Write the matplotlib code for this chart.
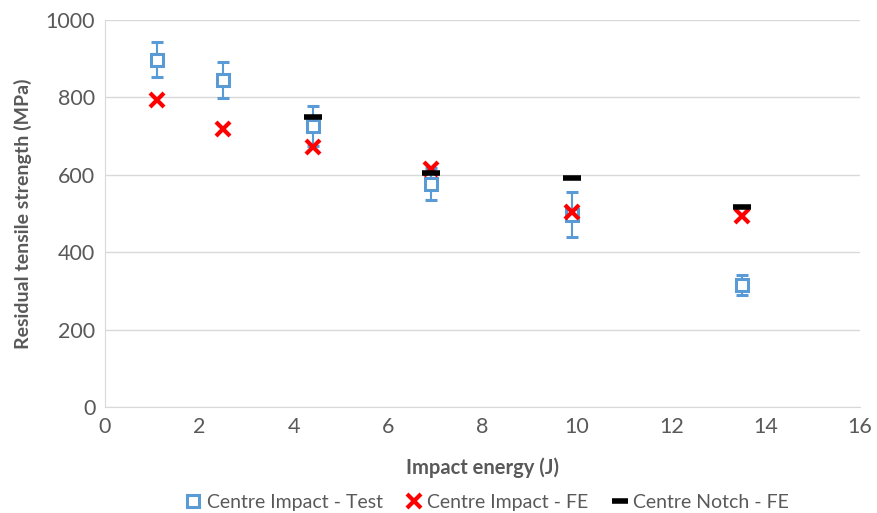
import matplotlib.pyplot as plt
from matplotlib.lines import Line2D

# ---- data ----
energy = [1.1, 2.5, 4.4, 6.9, 9.9, 13.5]
test_strength = [897, 845, 726, 576, 497, 316]
test_err = [45, 47, 52, 42, 58, 26]
fe_impact = [793, 718, 672, 615, 504, 494]
notch_energy = [4.4, 6.9, 9.9, 13.5]
fe_notch = [749, 605, 592, 517]

BLUE = "#5B9BD5"
RED = "#FF0000"
GREY_TXT = "#595959"
GRID = "#D9D9D9"

plt.rcParams["font.family"] = ["Lato", "DejaVu Sans"]

fig = plt.figure(figsize=(8.78, 5.13), dpi=100)
ax = fig.add_axes([0.1196, 0.2066, 0.8599, 0.7544])

ax.errorbar(energy, test_strength, yerr=test_err, fmt="s", ms=9,
            mfc="white", mec=BLUE, mew=2.2, ecolor=BLUE, elinewidth=1.5,
            capsize=4, capthick=1.5, zorder=3)
ax.plot(energy, fe_impact, ls="none", marker="x", ms=10, mew=3,
        color=RED, zorder=4)
ax.plot(notch_energy, fe_notch, ls="none", marker="_", ms=13, mew=4,
        color="black", zorder=4)

ax.set_xlim(0, 16)
ax.set_ylim(0, 1000)
ax.set_xticks(range(0, 17, 2))
ax.set_yticks(range(0, 1001, 200))
ax.grid(axis="y", color=GRID, lw=1)
ax.set_axisbelow(True)
for s in ["top", "right"]:
    ax.spines[s].set_visible(False)
ax.spines["left"].set_color(GRID)
ax.spines["bottom"].set_color(GRID)
ax.tick_params(length=0, labelsize=15.5, colors=GREY_TXT, pad=7)

ax.set_xlabel("Impact energy (J)", fontsize=14.5, fontweight="bold",
              color=GREY_TXT, labelpad=15)
ax.set_ylabel("Residual tensile strength (MPa)", fontsize=14,
              fontweight="bold", color=GREY_TXT, labelpad=10)

handles = [
    Line2D([], [], ls="none", marker="s", ms=9, mfc="white", mec=BLUE, mew=2.2),
    Line2D([], [], ls="none", marker="x", ms=10, mew=3, color=RED),
    Line2D([], [], ls="none", marker="_", ms=12, mew=4, color="black"),
]
labels = ["Centre Impact - Test", "Centre Impact - FE", "Centre Notch - FE"]
fig.legend(handles, labels, loc="lower center", bbox_to_anchor=(0.555, -0.03),
           ncol=3, frameon=False, fontsize=14, handlelength=0.8,
           handletextpad=0.3, columnspacing=1.2, labelcolor=GREY_TXT)

fig.savefig("out.png", dpi=100)
